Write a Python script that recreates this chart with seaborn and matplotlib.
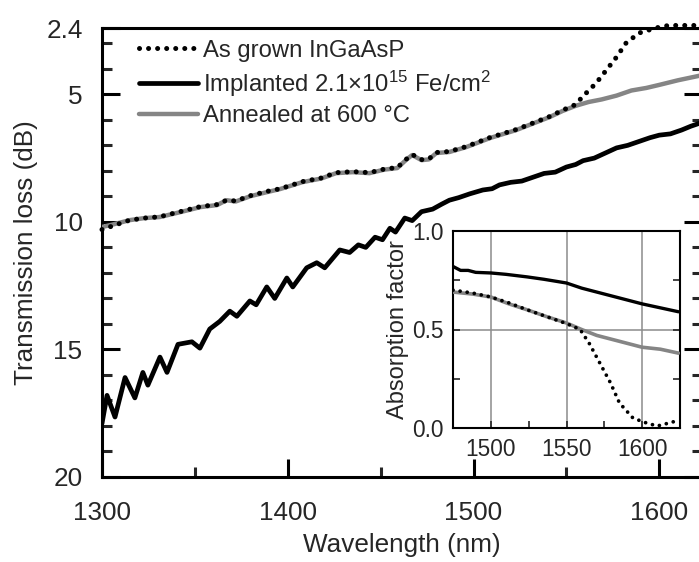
import matplotlib
matplotlib.use("Agg")
import matplotlib.pyplot as plt
import seaborn as sns
import pandas as pd
from matplotlib.ticker import FixedLocator

# ---------------- data ----------------
implanted_wl = [1300, 1302.7, 1307, 1312.4, 1317.7, 1322, 1324.7, 1331.2, 1335, 1340.9,
                1348.4, 1352.7, 1358, 1363.4, 1368.8, 1372.6, 1379.6, 1383, 1388.7, 1393,
                1399.5, 1402.7, 1410.2, 1415.6, 1419.9, 1428, 1433.3, 1438, 1442, 1447,
                1451, 1455, 1458, 1463, 1467, 1472, 1478, 1483, 1487, 1492, 1498, 1505,
                1510, 1514, 1520, 1526, 1532, 1538, 1544, 1550, 1555, 1559, 1565, 1571,
                1577, 1583, 1589, 1595, 1600, 1606, 1612, 1617, 1623]
implanted_loss = [17.9, 16.8, 17.65, 16.1, 16.9, 15.9, 16.4, 15.3, 15.9, 14.8,
                  14.7, 14.95, 14.2, 13.9, 13.5, 13.7, 13.1, 13.25, 12.55, 13.0,
                  12.2, 12.55, 11.8, 11.6, 11.8, 11.1, 11.2, 10.9, 11.0, 10.6,
                  10.7, 10.25, 10.4, 9.85, 9.95, 9.6, 9.5, 9.3, 9.15, 9.05, 8.9, 8.75,
                  8.7, 8.55, 8.45, 8.4, 8.25, 8.1, 8.05, 7.85, 7.75, 7.6, 7.5, 7.3,
                  7.1, 7.0, 6.85, 6.7, 6.6, 6.55, 6.4, 6.25, 6.1]

annealed_wl = [1300, 1306, 1315, 1323, 1331, 1342, 1353, 1362, 1367, 1372, 1380, 1389,
               1396, 1408, 1418, 1426, 1435, 1444, 1452, 1459, 1464, 1467, 1472, 1476,
               1480, 1487, 1496, 1509, 1523, 1541, 1548, 1555, 1562, 1569, 1577, 1585,
               1593, 1600, 1610, 1623]
annealed_loss = [10.2, 10.1, 9.93, 9.85, 9.81, 9.62, 9.42, 9.34, 9.15, 9.2, 8.99, 8.83,
                 8.71, 8.44, 8.3, 8.09, 8.05, 8.09, 7.95, 7.89, 7.55, 7.38, 7.58, 7.55,
                 7.3, 7.26, 7.07, 6.71, 6.4, 5.89, 5.65, 5.45, 5.3, 5.2, 5.05, 4.85,
                 4.75, 4.63, 4.45, 4.25]

grown_wl = [1300, 1306, 1315, 1323, 1331, 1342, 1353, 1362, 1367, 1372, 1380, 1389,
            1396, 1408, 1418, 1426, 1435, 1444, 1452, 1459, 1464, 1467, 1472, 1476,
            1480, 1487, 1496, 1509, 1523, 1541, 1548, 1555, 1558.6, 1566, 1571.5,
            1577, 1582, 1589, 1598, 1605, 1623]
grown_loss = [10.3, 10.15, 9.93, 9.85, 9.8, 9.6, 9.4, 9.32, 9.15, 9.18, 8.97, 8.8,
              8.7, 8.42, 8.28, 8.07, 8.03, 8.07, 7.93, 7.87, 7.53, 7.36, 7.56, 7.53,
              7.28, 7.24, 7.05, 6.69, 6.38, 5.87, 5.62, 5.4, 5.1, 4.56, 4.05,
              3.54, 3.0, 2.6, 2.4, 2.3, 2.3]

# inset: absorption factor
ins_impl_wl = [1475, 1480, 1485, 1490, 1500, 1510, 1524, 1535, 1550, 1560, 1570, 1585, 1600, 1612, 1624]
ins_impl_val = [0.82, 0.80, 0.80, 0.79, 0.787, 0.78, 0.767, 0.755, 0.736, 0.71, 0.69, 0.66, 0.63, 0.61, 0.59]
ins_ann_wl = [1475, 1488, 1500, 1512, 1524, 1537, 1550, 1560, 1570, 1585, 1600, 1612, 1624]
ins_ann_val = [0.69, 0.68, 0.665, 0.63, 0.60, 0.565, 0.533, 0.50, 0.47, 0.44, 0.41, 0.40, 0.38]
ins_grown_wl = [1475, 1488, 1500, 1512, 1524, 1537, 1550, 1559, 1565, 1572, 1579, 1585, 1594, 1603, 1610, 1620, 1624]
ins_grown_val = [0.70, 0.685, 0.665, 0.635, 0.60, 0.565, 0.53, 0.50, 0.43, 0.33, 0.23, 0.127, 0.05, 0.025, 0.01, 0.03, 0.04]

labels = ["As grown InGaAsP",
          "Implanted 2.1\u00d710$^{15}$ Fe/cm$^{2}$",
          "Annealed at 600 \u00b0C"]
main_xticks = [1300, 1400, 1500, 1600]
main_yticks = [2.4, 5, 10, 15, 20]
main_yticklabels = ["2.4", "5", "10", "15", "20"]
inset_xticks = [1500, 1550, 1600]
inset_yticks = [0.0, 0.5, 1.0]

# ---------------- style ----------------
sns.set_style("ticks")
plt.rcParams["font.family"] = ["Liberation Sans", "DejaVu Sans"]
plt.rcParams["mathtext.fontset"] = "custom"
plt.rcParams["mathtext.rm"] = "Liberation Sans"
plt.rcParams["mathtext.it"] = "Liberation Sans:italic"
plt.rcParams["mathtext.default"] = "regular"

fig = plt.figure(figsize=(6.99, 5.62), dpi=100)
ax = fig.add_axes([102 / 699, 1 - 477 / 562, 600 / 699, (477 - 28) / 562])

grey = "#858585"
dot_style = dict(linestyle=(0, (0.01, 1.8)), dash_capstyle="round")

df_g = pd.DataFrame({"wl": grown_wl, "v": grown_loss})
df_i = pd.DataFrame({"wl": implanted_wl, "v": implanted_loss})
df_a = pd.DataFrame({"wl": annealed_wl, "v": annealed_loss})

sns.lineplot(data=df_a, x="wl", y="v", ax=ax, color=grey, lw=3.2, label=labels[2],
             sort=False, zorder=3)
sns.lineplot(data=df_g, x="wl", y="v", ax=ax, color="black", lw=3.6, label=labels[0],
             sort=False, zorder=4, clip_on=False, **dot_style)
sns.lineplot(data=df_i, x="wl", y="v", ax=ax, color="black", lw=3.4, label=labels[1],
             sort=False, zorder=3, solid_joinstyle="round")

ax.set_xlim(1300, 1623)
ax.set_ylim(20, 2.4)
ax.set_xticks(main_xticks)
ax.xaxis.set_minor_locator(FixedLocator([1350, 1450, 1550]))
ax.set_yticks(main_yticks)
ax.set_yticklabels(main_yticklabels)
ax.yaxis.set_minor_locator(FixedLocator([3, 4, 6, 7, 8, 9, 11, 12, 13, 14, 16, 17, 18, 19]))
ax.tick_params(which="major", direction="in", length=13, width=2.2,
               labelsize=18.8, right=True, top=False, color="black")
ax.tick_params(which="minor", direction="in", length=7, width=2.2, right=True, top=False)
ax.tick_params(axis="y", which="major", pad=14)
ax.tick_params(axis="x", which="major", pad=17)
for s in ax.spines.values():
    s.set_linewidth(2.2)
    s.set_color("black")
ax.set_xlabel("Wavelength (nm)", fontsize=18.8, labelpad=6)
ax.set_ylabel("Transmission loss (dB)", fontsize=18.8, labelpad=6)

handles, labs = ax.get_legend_handles_labels()
order = [labs.index(l) for l in labels]
leg = ax.legend([handles[i] for i in order], [labs[i] for i in order],
                loc="upper left", bbox_to_anchor=(0.045, 0.995), frameon=False,
                fontsize=17.2, handlelength=2.5, handletextpad=0.2, labelspacing=0.28,
                borderaxespad=0)

# ---------------- inset ----------------
ins = fig.add_axes([453 / 699, 1 - 428 / 562, 227 / 699, 197 / 562])
ins.set_facecolor("white")
ins.set_zorder(5)
dg = pd.DataFrame({"wl": ins_grown_wl, "v": ins_grown_val})
di = pd.DataFrame({"wl": ins_impl_wl, "v": ins_impl_val})
da = pd.DataFrame({"wl": ins_ann_wl, "v": ins_ann_val})
sns.lineplot(data=da, x="wl", y="v", ax=ins, color=grey, lw=2.6, sort=False, zorder=3)
sns.lineplot(data=dg, x="wl", y="v", ax=ins, color="black", lw=2.7, sort=False, zorder=4,
             linestyle=(0, (0.01, 1.9)), dash_capstyle="round")
sns.lineplot(data=di, x="wl", y="v", ax=ins, color="black", lw=2.4, sort=False, zorder=3)
ins.set_xlim(1475, 1625)
ins.set_ylim(0, 1.0)
ins.set_xticks(inset_xticks)
ins.set_yticks(inset_yticks)
ins.set_yticklabels(["0.0", "0.5", "1.0"])
ins.xaxis.set_minor_locator(FixedLocator([1525, 1575]))
ins.yaxis.set_minor_locator(FixedLocator([0.25, 0.75]))
ins.grid(True, which="major", color="#8c8c8c", lw=1.1)
ins.set_axisbelow(True)
ins.tick_params(which="both", direction="in", length=5, width=1.2, right=True,
                labelsize=16.3, pad=7)
for s in ins.spines.values():
    s.set_linewidth(1.5)
    s.set_color("black")
ins.set_xlabel("")
ins.set_ylabel("Absorption factor", fontsize=17, labelpad=2)

fig.savefig("out.png", dpi=100)
